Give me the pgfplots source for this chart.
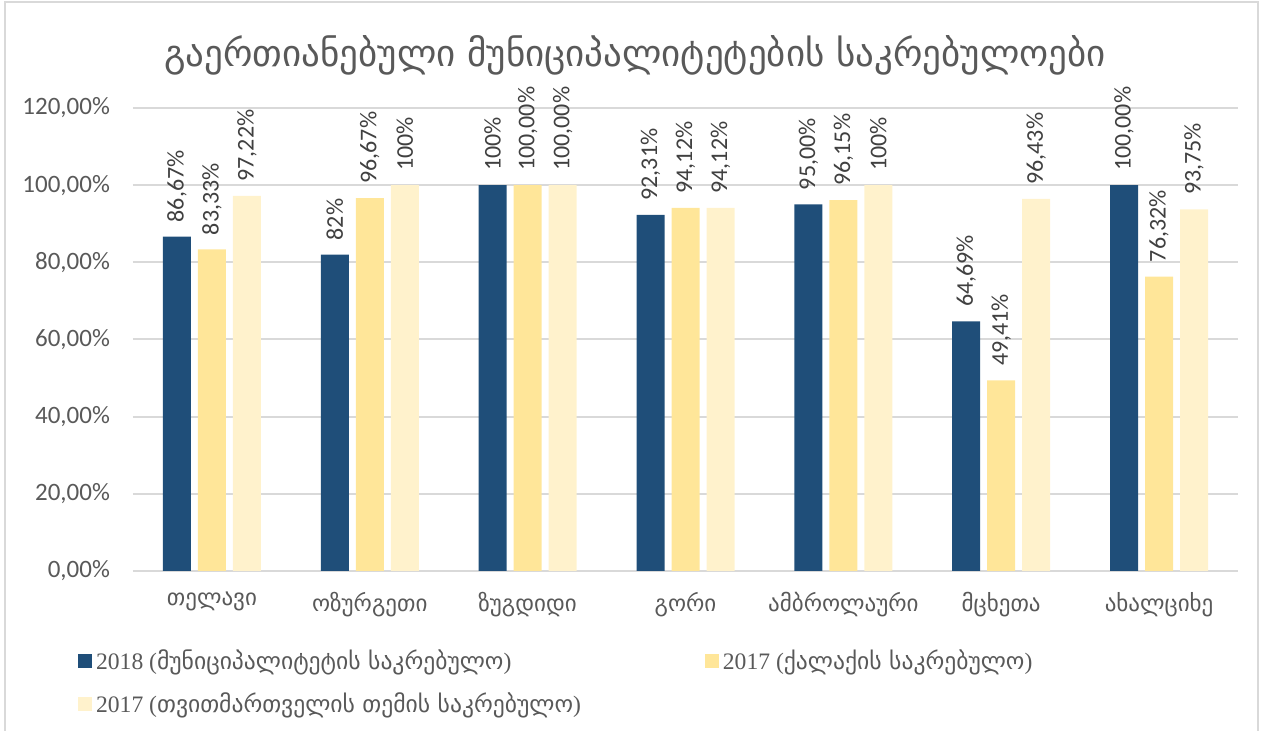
\documentclass[border=0pt]{standalone}
\usepackage{fontspec}
\setmainfont{Carlito}
\newfontfamily\geo{DejaVu Sans}
\newfontfamily\lserif{Liberation Serif}
\usepackage{pgfplots}
\pgfplotsset{compat=1.18}
\definecolor{darkblue}{HTML}{1F4E79}
\definecolor{gold}{HTML}{FFE699}
\definecolor{cream}{HTML}{FFF2CC}
\definecolor{gridgray}{HTML}{D9D9D9}
\definecolor{txt}{HTML}{595959}
\definecolor{lbl}{HTML}{404040}
\begin{document}
\begin{tikzpicture}
% 1 px of the reference = 0.5pt, origin at the axis box's lower left corner
\useasboundingbox (-66.5pt,-80pt) rectangle (567.5pt,285.5pt);
\draw[gridgray, line width=1pt] (-64pt,-100pt) -- (-64pt,284.5pt) -- (562.5pt,284.5pt) -- (562.5pt,-100pt);
\begin{axis}[
    at={(0,0)}, anchor=south west,
    scale only axis, width=552.5pt, height=231.5pt,
    xmin=-0.5, xmax=6.5, ymin=0, ymax=120,
    ybar, bar width=14pt,
    axis line style={draw=none},
    major tick length=0pt,
    xtick={0,...,6},
    xticklabels={თელავი,ოზურგეთი,ზუგდიდი,გორი,ამბროლაური,მცხეთა,ახალციხე},
    xticklabel style={font=\geo\fontsize{11.5}{13}\selectfont, text=txt, yshift=-7pt},
    ytick={0,20,...,120},
    yticklabels={{0,00\%},{20,00\%},{40,00\%},{60,00\%},{80,00\%},{100,00\%},{120,00\%}},
    yticklabel style={font=\fontsize{12.5}{14}\selectfont, text=txt, xshift=-8pt},
    ymajorgrids, grid style={gridgray, line width=1pt},
    point meta=explicit symbolic,
    nodes near coords={\pgfplotspointmeta\%},
    every node near coord/.append style={rotate=90, anchor=west, inner sep=0pt,
        inner xsep=7pt, font=\fontsize{12}{14}\selectfont, text=lbl},
    legend columns=2,
    legend style={at={(axis description cs:-0.05,-0.16)}, anchor=north west,
        draw=none, fill=none, inner sep=0pt, row sep=6pt,
        font=\fontsize{11.8}{13}\selectfont, text=txt,
        cells={anchor=west},
        /tikz/every even column/.append style={column sep=60pt}},
    legend image code/.code={\fill[#1] (0pt,-3.5pt) rectangle (7pt,3.5pt);},
]
\addplot[fill=darkblue, draw=none, bar shift=-17.5pt] table[meta=lab] {
x y lab
0 86.67 86,67
1 82 82
2 100 100
3 92.31 92,31
4 95.00 95,00
5 64.69 64,69
6 100 100,00
};
\addlegendentry{{\lserif 2018 (}{\geo მუნიციპალიტეტის საკრებულო}{\lserif )}}
\addplot[fill=gold, draw=none, bar shift=0pt] table[meta=lab] {
x y lab
0 83.33 83,33
1 96.67 96,67
2 100 100,00
3 94.12 94,12
4 96.15 96,15
5 49.41 49,41
6 76.32 76,32
};
\addlegendentry{{\lserif 2017 (}{\geo ქალაქის საკრებულო}{\lserif )}}
\addplot[fill=cream, draw=none, bar shift=17.5pt] table[meta=lab] {
x y lab
0 97.22 97,22
1 100 100
2 100 100,00
3 94.12 94,12
4 100 100
5 96.43 96,43
6 93.75 93,75
};
\addlegendentry{{\lserif 2017 (}{\geo თვითმართველის თემის საკრებულო}{\lserif )}}
\end{axis}
\node[font=\geo\fontsize{18.5}{22}\selectfont, text=txt] at (251pt,258pt)
    {გაერთიანებული მუნიციპალიტეტების საკრებულოები};
\end{tikzpicture}
\end{document}
